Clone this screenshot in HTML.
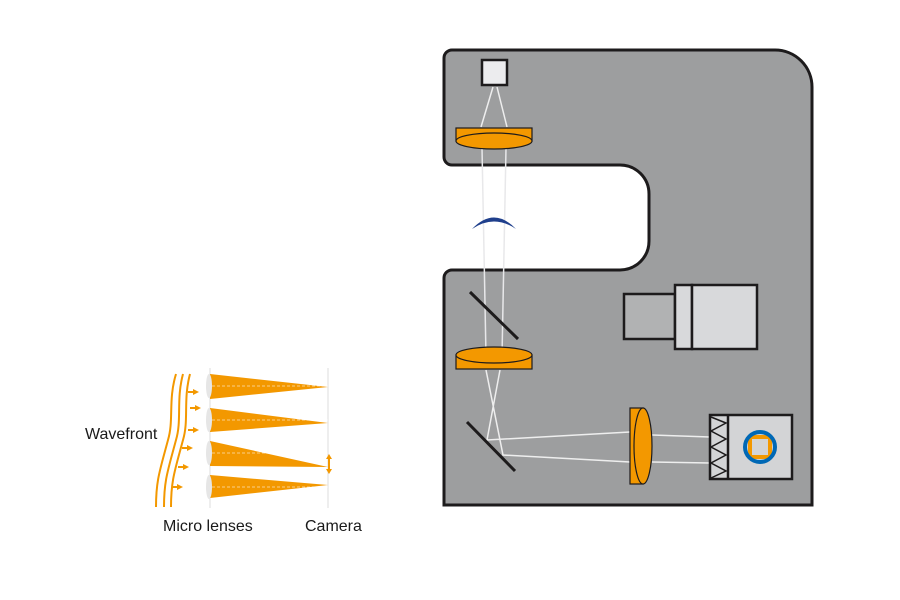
<!DOCTYPE html>
<html><head><style>body{margin:0;background:#fff}svg{display:block}text{font-family:"Liberation Sans",sans-serif;font-size:16px;fill:#1a1a1a}</style></head><body>
<svg width="900" height="600" viewBox="0 0 900 600">
<path d="M452,50 H775 A37,37 0 0 1 812,87 V505 H444 V278 A8,8 0 0 1 452,270 H620 A29,29 0 0 0 649,241 V194 A29,29 0 0 0 620,165 H452 A8,8 0 0 1 444,157 V58 A8,8 0 0 1 452,50 Z" fill="#9d9e9f" stroke="#1d1b1c" stroke-width="3"/>
<g stroke="#eee" stroke-width="1.5" fill="none">
<path d="M493,87 L481,127 M497,87 L507,127"/>
<path d="M482,148 L486,356 M506,148 L502,356" stroke="#e8e8ea"/>
<path d="M486,370 L503,455 L630,462 M500,370 L487,440 L630,432"/>
<path d="M652,435 L710,437 M652,462 L710,463"/>
</g>
<rect x="482" y="60" width="25" height="25" fill="#ececee" stroke="#1d1b1c" stroke-width="2.5"/>
<rect x="456" y="128" width="76" height="13" fill="#f39800" stroke="#1d1b1c" stroke-width="1.2"/>
<ellipse cx="494" cy="141" rx="38" ry="8" fill="#f39800" stroke="#1d1b1c" stroke-width="1.2"/>
<path d="M472,229 Q494,206 516,229 Q494,214 472,229Z" fill="#1f3f8c"/>
<line x1="470" y1="292" x2="518" y2="339" stroke="#1d1b1c" stroke-width="3"/>
<rect x="456" y="355" width="76" height="14" fill="#f39800" stroke="#1d1b1c" stroke-width="1.2"/>
<ellipse cx="494" cy="355" rx="38" ry="8" fill="#f39800" stroke="#1d1b1c" stroke-width="1.2"/>
<line x1="467" y1="422" x2="515" y2="471" stroke="#1d1b1c" stroke-width="3"/>
<rect x="630" y="408" width="13" height="76" fill="#f39800" stroke="#1d1b1c" stroke-width="1.2"/>
<ellipse cx="643" cy="446" rx="9" ry="38" fill="#f39800" stroke="#1d1b1c" stroke-width="1.2"/>
<rect x="624" y="294" width="51" height="45" fill="#b1b2b3" stroke="#1d1b1c" stroke-width="2.5"/>
<rect x="675" y="285" width="17" height="64" fill="#d8d9db" stroke="#1d1b1c" stroke-width="2.5"/>
<rect x="692" y="285" width="65" height="64" fill="#d8d9db" stroke="#1d1b1c" stroke-width="2.5"/>
<rect x="710" y="415" width="82" height="64" fill="#d3d4d6" stroke="#1d1b1c" stroke-width="2.5"/>
<line x1="728" y1="415" x2="728" y2="479" stroke="#1d1b1c" stroke-width="2.5"/>
<path d="M711,417 L726,423 L711,431 L726,439 L711,447 L726,455 L711,463 L726,471 L711,478" fill="none" stroke="#1d1b1c" stroke-width="1.5"/>
<rect x="748" y="435" width="24" height="24" fill="#f39800"/>
<rect x="752" y="439" width="16" height="16" fill="#d3d4d6"/>
<circle cx="760" cy="447" r="15" fill="none" stroke="#0068b5" stroke-width="4"/>
<!-- left panel -->
<line x1="210" y1="368" x2="210" y2="508" stroke="#ddd"/>
<line x1="328" y1="368" x2="328" y2="508" stroke="#ddd"/>
<g fill="#f39800">
<path d="M210,374 L328,387 L210,399Z"/>
<path d="M210,408 L328,423 L210,432Z"/>
<path d="M210,441 L328,467 L210,466Z"/>
<path d="M210,475 L328,485 L210,498Z"/>
</g>
<g fill="#e6e6e6"><ellipse cx="209" cy="386" rx="3" ry="12"/><ellipse cx="209" cy="420" rx="3" ry="12"/><ellipse cx="209" cy="453" rx="3" ry="12"/><ellipse cx="209" cy="487" rx="3" ry="12"/></g>
<g stroke="#fff" stroke-dasharray="3,2" stroke-width="0.7" opacity="0.7"><line x1="212" y1="386" x2="328" y2="386"/><line x1="212" y1="420" x2="328" y2="420"/><line x1="212" y1="453" x2="328" y2="453"/><line x1="212" y1="487" x2="328" y2="487"/></g>
<g stroke="#f39800" stroke-width="2" fill="none">
<path d="M176,374 C168,400 174,420 168,440 C160,470 156,480 156,507"/>
<path d="M183,374 C176,400 182,420 176,440 C168,470 164,480 164,507"/>
<path d="M190,374 C183,400 189,420 183,440 C175,470 171,480 171,507"/>
<path d="M188,392 H196 M190,408 H198 M188,430 H196 M182,448 H190 M178,467 H186 M172,487 H180"/>
<path d="M329,456 V472"/>
</g>
<g fill="#f39800">
<path d="M199,392 l-6,-3 v6z"/><path d="M201,408 l-6,-3 v6z"/><path d="M199,430 l-6,-3 v6z"/><path d="M193,448 l-6,-3 v6z"/><path d="M189,467 l-6,-3 v6z"/><path d="M183,487 l-6,-3 v6z"/>
<path d="M329,454 l-3,5 h6z"/><path d="M329,474 l-3,-5 h6z"/>
</g>
<text x="85" y="439">Wavefront</text>
<text x="163" y="531">Micro lenses</text>
<text x="305" y="531">Camera</text>
</svg>
</body></html>
